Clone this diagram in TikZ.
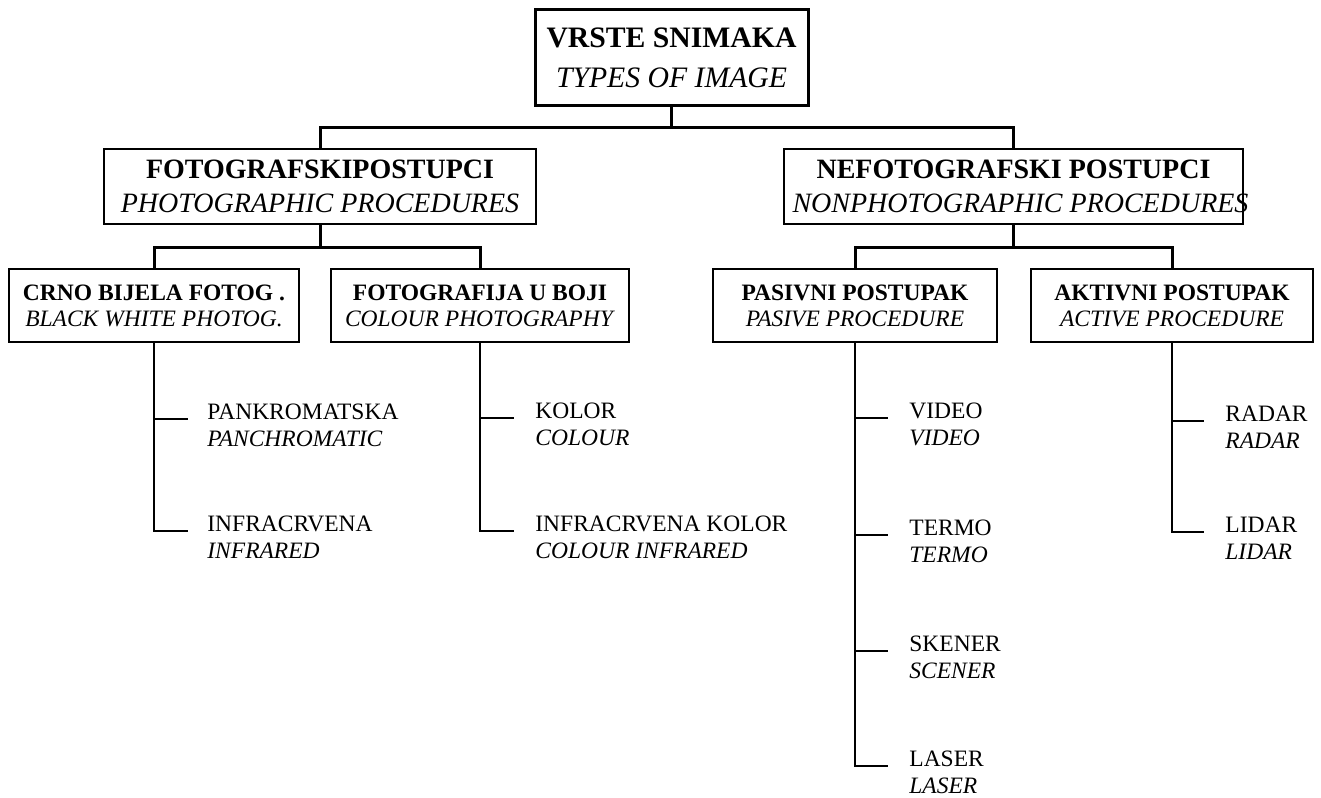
\documentclass[tikz,border=0pt]{standalone}
\usepackage{fontspec}
\setmainfont{Liberation Serif}
\usetikzlibrary{positioning}
\usetikzlibrary{calc}

\begin{document}
\begin{tikzpicture}[x=0.5pt,y=-0.5pt]
	\tikzset{mainbox/.style = {shape=rectangle, draw, line width=1.5pt, align=center, inner sep=0pt, font=\fontsize{14.85}{20}\selectfont, minimum width=136.5pt, minimum height=48pt}}
	\tikzset{groupbox/.style = {shape=rectangle, draw, line width=1pt, align=center, inner sep=0pt, font=\fontsize{14}{17}\selectfont, minimum height=37.5pt}}
	\tikzset{typebox/.style = {shape=rectangle, draw, line width=1pt, align=center, inner sep=0pt, font=\fontsize{11.75}{13}\selectfont, minimum height=36.5pt}}
	\tikzset{leaf/.style = {anchor=base west, align=left, inner sep=0pt, yshift=-13.5pt, font=\fontsize{11.75}{13.5}\selectfont}}
	\tikzset{bus/.style = {line width=1.5pt}}
	\tikzset{twig/.style = {line width=0.9pt}}

	\useasboundingbox (0,0) rectangle (1321,797);

	% levels of boxes
	\node[mainbox] (VRSTE) at (671.5,58) {\textbf{VRSTE SNIMAKA} \\ \textit{TYPES OF IMAGE}};

	\node[groupbox, minimum width=216pt] (FOTO) at (320,186.5)
	{\textbf{FOTOGRAFSKIPOSTUPCI} \\ \textit{PHOTOGRAPHIC PROCEDURES}};
	\node[groupbox, minimum width=229.5pt] (NEFOTO) at (1013.5,186.5)
	{\textbf{NEFOTOGRAFSKI POSTUPCI} \\ \textit{\makebox[200pt]{\hspace*{7pt}NONPHOTOGRAPHIC PROCEDURES}}};

	\node[typebox, minimum width=145pt] (CRNO) at (154,305.5)
	{\textbf{CRNO BIJELA FOTOG .} \\ \textit{BLACK WHITE PHOTOG.}};
	\node[typebox, minimum width=149pt] (BOJA) at (480,305.5)
	{\textbf{FOTOGRAFIJA U BOJI} \\ \textit{COLOUR PHOTOGRAPHY}};
	\node[typebox, minimum width=142pt] (PASIV) at (855,305.5)
	{\textbf{PASIVNI POSTUPAK} \\ \textit{PASIVE PROCEDURE}};
	\node[typebox, minimum width=141pt] (AKTIV) at (1172,305.5)
	{\textbf{AKTIVNI POSTUPAK} \\ \textit{ACTIVE PROCEDURE}};

	\draw[bus] (VRSTE.south) -- ++(0,20) -| (FOTO.north);
	\draw[bus] (VRSTE.south) -- ++(0,20) -| (NEFOTO.north);
	\draw[bus] (FOTO.south) -- ++(0,22) -| (CRNO.north);
	\draw[bus] (FOTO.south) -- ++(0,22) -| (BOJA.north);
	\draw[bus] (NEFOTO.south) -- ++(0,22) -| (PASIV.north);
	\draw[bus] (NEFOTO.south) -- ++(0,22) -| (AKTIV.north);

	% leaves
	\coordinate (tPANK) at (188,419);
	\coordinate (tINFRA) at (188,531);
	\node[leaf] (PANK) at (207,419) {PANKROMATSKA \\ \textit{PANCHROMATIC}};
	\node[leaf] (INFRA) at (207,531) {INFRACRVENA \\ \textit{INFRARED}};
	\draw[twig] (CRNO.south) |- (tPANK);
	\draw[twig] (CRNO.south) |- (tINFRA);

	\coordinate (tKOL) at (514,418);
	\coordinate (tIKOL) at (514,531);
	\node[leaf] (KOL) at (535,418) {KOLOR \\ \textit{COLOUR}};
	\node[leaf] (IKOL) at (535,531) {INFRACRVENA KOLOR \\ \textit{COLOUR INFRARED}};
	\draw[twig] (BOJA.south) |- (tKOL);
	\draw[twig] (BOJA.south) |- (tIKOL);

	\coordinate (tVIDEO) at (888,418);
	\coordinate (tTERMO) at (888,535);
	\coordinate (tSKEN) at (888,651);
	\coordinate (tLASER) at (888,766);
	\node[leaf] (VIDEO) at (909,418) {VIDEO \\ \textit{VIDEO}};
	\node[leaf] (TERMO) at (909,535) {TERMO \\ \textit{TERMO}};
	\node[leaf] (SKEN) at (909,651) {SKENER \\ \textit{SCENER}};
	\node[leaf] (LASER) at (909,766) {LASER \\ \textit{LASER}};
	\draw[twig] (PASIV.south) |- (tVIDEO);
	\draw[twig] (PASIV.south) |- (tTERMO);
	\draw[twig] (PASIV.south) |- (tSKEN);
	\draw[twig] (PASIV.south) |- (tLASER);

	\coordinate (tRADAR) at (1204,421);
	\coordinate (tLIDAR) at (1204,532);
	\node[leaf] (RADAR) at (1225,421) {RADAR \\ \textit{RADAR}};
	\node[leaf] (LIDAR) at (1225,532) {LIDAR \\ \textit{LIDAR}};
	\draw[twig] (AKTIV.south) |- (tRADAR);
	\draw[twig] (AKTIV.south) |- (tLIDAR);
\end{tikzpicture}
\end{document}
